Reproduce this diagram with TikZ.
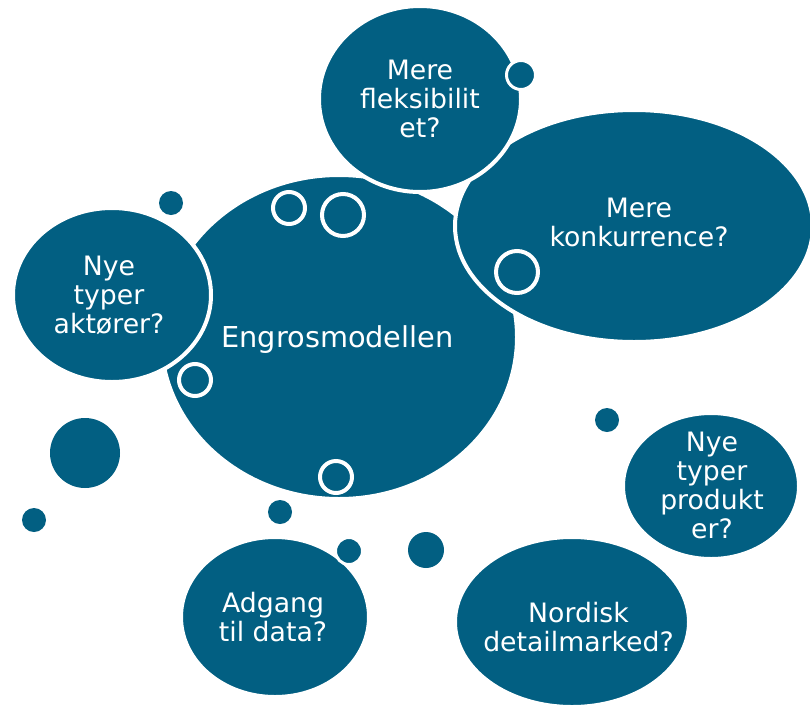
\documentclass[tikz,border=0pt]{standalone}
\usepackage{fontspec}
\setmainfont{DejaVu Sans}
\usetikzlibrary{shapes.geometric}
\definecolor{tealzero}{RGB}{2,95,130}
\tikzset{
  bub/.style={ellipse, fill=tealzero, draw=white, line width=4pt, inner sep=0pt, outer sep=0pt},
  dotc/.style={circle, fill=tealzero, inner sep=0pt, outer sep=0pt, minimum size=#1},
  rdot/.style={circle, fill=tealzero, draw=white, line width=3pt, inner sep=0pt, outer sep=0pt, minimum size=#1},
  ringc/.style={circle, fill=tealzero, draw=white, line width=4pt, inner sep=0pt, outer sep=0pt, minimum size=#1},
  txt/.style={text=white, align=center, inner sep=0pt, font=\fontsize{26.7}{29}\selectfont},
  bigtxt/.style={text=white, align=center, inner sep=0pt, font=\fontsize{28.8}{33}\selectfont}
}
\begin{document}
\begin{tikzpicture}[x=1pt,y=-1pt]
\clip (0,0) rectangle (810,707);
\fill[white] (0,0) rectangle (810,707);
% big shapes
\node[bub, minimum width=356pt, minimum height=324pt] (engros) at (339,337) {};
\node[bub, minimum width=358pt, minimum height=232pt] (konk) at (634,226) {};
\node[bub, minimum width=202pt, minimum height=186pt] (fleks) at (420,99) {};
\node[bub, minimum width=198pt, minimum height=174pt] (akt) at (112,295) {};
\node[bub, minimum width=188pt, minimum height=160pt] (adg) at (275,617) {};
\node[bub, minimum width=176pt, minimum height=146pt] (prod) at (711,486) {};
\node[bub, minimum width=234pt, minimum height=170pt] (nord) at (572,622) {};
% small dots
\node[dotc=24pt] (d1) at (171,203) {};
\node[dotc=70pt] (d2) at (85,453) {};
\node[dotc=24pt] (d3) at (34,520) {};
\node[dotc=24pt] (d4) at (280,512) {};
\node[dotc=36pt] (d5) at (426,550) {};
\node[dotc=24pt] (d6) at (607,420) {};
\node[rdot=29pt] (d7) at (521,75) {};
\node[rdot=27pt] (d8) at (349,551) {};
% rings
\node[ringc=32pt] (r1) at (289,208) {};
\node[ringc=42pt] (r2) at (343,215) {};
\node[ringc=42pt] (r3) at (517,272) {};
\node[ringc=32pt] (r4) at (195,380) {};
\node[ringc=32pt] (r5) at (336,477) {};
% texts
\node[bigtxt] (tengros) at (337.5,339.5) {Engrosmodellen};
\node[txt] (tfleks) at (420,98.5) {Mere\\fleksibilit\\et?};
\node[txt] (tkonk) at (639,222.5) {Mere\\konkurrence?};
\node[txt] (takt) at (109,295) {Nye\\typer\\aktører?};
\node[txt] (tadg) at (273,617) {Adgang\\til data?};
\node[txt] (tprod) at (712,485.5) {Nye\\typer\\produkt\\er?};
\node[txt] (tnord) at (578.5,627) {Nordisk\\detailmarked?};
\end{tikzpicture}
\end{document}
